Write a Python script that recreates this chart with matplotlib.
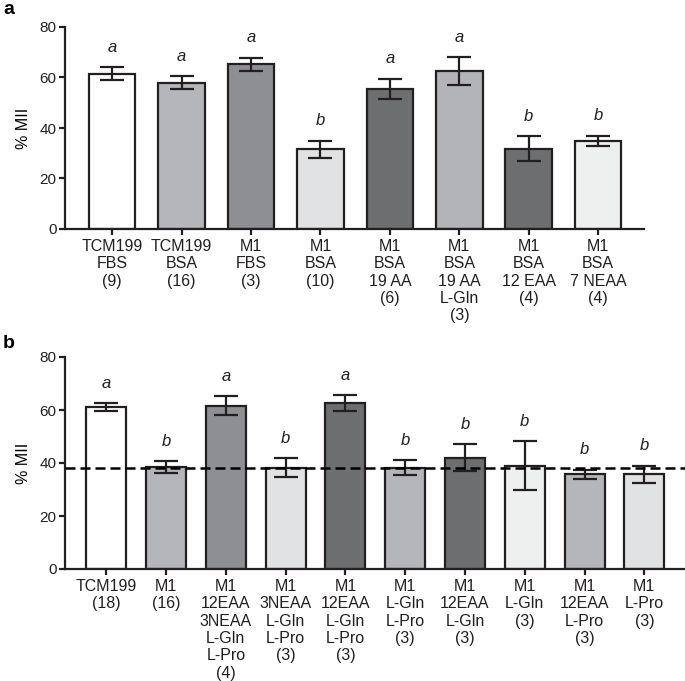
import matplotlib

matplotlib.use("Agg")

import matplotlib.pyplot as plt  # noqa: E402

plt.rcParams["font.family"] = ["Liberation Sans", "DejaVu Sans"]

# Panel a
labels_a = [
    "TCM199\nFBS\n(9)", "TCM199\nBSA\n(16)", "M1\nFBS\n(3)", "M1\nBSA\n(10)",
    "M1\nBSA\n19 AA\n(6)", "M1\nBSA\n19 AA\nL-Gln\n(3)",
    "M1\nBSA\n12 EAA\n(4)", "M1\nBSA\n7 NEAA\n(4)",
]
mean_a = [61.5, 58.0, 65.2, 31.5, 55.6, 62.6, 31.8, 35.0]
sem_a = [2.5, 2.6, 2.7, 3.5, 4.0, 5.5, 5.0, 2.0]
sig_a = ["a", "a", "a", "b", "a", "a", "b", "b"]
colors_a = ["#ffffff", "#b5b6b9", "#8e8f92", "#e1e2e3",
            "#6d6e70", "#b3b4b7", "#6d6e70", "#eef0ef"]

# Panel b
labels_b = [
    "TCM199\n(18)", "M1\n(16)", "M1\n12EAA\n3NEAA\nL-Gln\nL-Pro\n(4)",
    "M1\n3NEAA\nL-Gln\nL-Pro\n(3)", "M1\n12EAA\nL-Gln\nL-Pro\n(3)",
    "M1\nL-Gln\nL-Pro\n(3)", "M1\n12EAA\nL-Gln\n(3)", "M1\nL-Gln\n(3)",
    "M1\n12EAA\nL-Pro\n(3)", "M1\nL-Pro\n(3)",
]
mean_b = [61.0, 38.5, 61.6, 38.2, 62.7, 38.2, 42.0, 39.0, 35.7, 35.7]
sem_b = [1.5, 2.3, 3.6, 3.6, 3.0, 2.8, 5.0, 9.3, 1.8, 3.3]
sig_b = ["a", "b", "a", "b", "a", "b", "b", "b", "b", "b"]
colors_b = ["#ffffff", "#b5b6b9", "#8e8f92", "#e1e2e3", "#6d6e70",
            "#b5b6b9", "#6d6e70", "#eef0ef", "#b5b6b9", "#e1e2e3"]
control_line_b = 38.3

INK = "#231f20"

fig = plt.figure(figsize=(6.85, 6.81), dpi=100)
ax_a = fig.add_axes([65 / 685, 1 - 229 / 681, 579 / 685, 202 / 681])
ax_b = fig.add_axes([65 / 685, 1 - 569 / 681, 620 / 685, 212 / 681])


def draw_panel(ax, labels, means, sems, sig, colors, xlim):
    x = list(range(len(means)))
    ax.bar(x, means, width=0.67, color=colors, edgecolor=INK, linewidth=1.6,
           zorder=2)
    ax.errorbar(x, means, yerr=sems, fmt="none", ecolor=INK, elinewidth=1.6,
                capsize=8.5, capthick=1.6, zorder=3)
    for xi, m, s, letter in zip(x, means, sems, sig):
        ax.annotate(letter, (xi, m + s), xytext=(0, 11),
                    textcoords="offset points", ha="center", va="baseline",
                    fontsize=12, style="italic", color=INK)
    ax.set_xlim(*xlim)
    ax.set_ylim(0, 80)
    ax.set_yticks([0, 20, 40, 60, 80])
    ax.set_xticks(x)
    ax.set_xticklabels(labels, fontsize=11.5, linespacing=1.2)
    ax.set_ylabel("% MII", fontsize=11.5, labelpad=6)
    for side in ("top", "right"):
        ax.spines[side].set_visible(False)
    for side in ("left", "bottom"):
        ax.spines[side].set_linewidth(1.6)
        ax.spines[side].set_color(INK)
    ax.tick_params(axis="both", width=1.6, length=4, color=INK,
                   labelsize=11, labelcolor=INK)
    ax.tick_params(axis="x", pad=3, labelsize=11.5)
    ax.tick_params(axis="y", pad=2)


draw_panel(ax_a, labels_a, mean_a, sem_a, sig_a, colors_a, (-0.68, 7.66))
draw_panel(ax_b, labels_b, mean_b, sem_b, sig_b, colors_b, (-0.69, 9.68))
ax_b.axhline(control_line_b, color="black", linewidth=1.8,
             linestyle=(0, (4, 2)), zorder=4)

fig.text(3 / 685, 1 - 10 / 681, "a", fontsize=14, fontweight="bold",
         va="center", ha="left")
fig.text(3 / 685, 1 - 343 / 681, "b", fontsize=14, fontweight="bold",
         va="center", ha="left")

fig.savefig("out.png", dpi=100, facecolor="white")
